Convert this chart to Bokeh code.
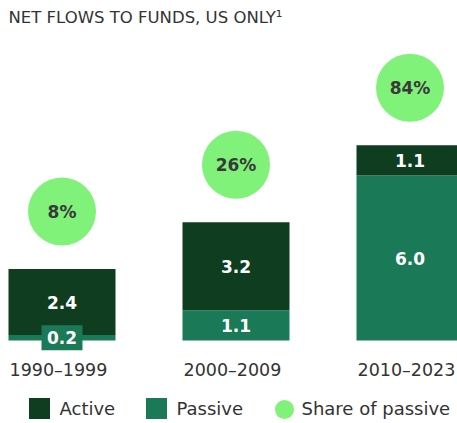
from bokeh.plotting import figure
from bokeh.models import Range1d, ColumnDataSource
from bokeh.core.properties import value
from bokeh.embed import file_html
from bokeh.resources import INLINE

# ---- data ----
categories = ["1990\u20131999", "2000\u20132009", "2010\u20132023"]
active = [2.4, 3.2, 1.1]
passive = [0.2, 1.1, 6.0]
share_passive = [8, 26, 84]
title_text = "NET FLOWS TO FUNDS, US ONLY\u00b9"
legend_labels = ["Active", "Passive", "Share of passive"]

# ---- style ----
ACTIVE_C = "#0F3D1F"
PASSIVE_C = "#1A7A57"
SHARE_C = "#80F27A"
TEXT_C = "#333333"
PCT_C = "#3A3A3A"
FONT = value("DejaVu Sans")

# ---- layout (page pixels) ----
W, H = 457, 423
PX_PER_UNIT = 27.5
BASE_Y = 340          # baseline position from top
CAT_SPACING = 174
FIRST_CENTER = 61.5
BAR_W = 107 / CAT_SPACING
CIRCLE_GAP = 57.5     # px from bar top to circle centre


def fx(px):
    return (px - FIRST_CENTER) / CAT_SPACING


def fy(py):
    return (BASE_Y - py) / PX_PER_UNIT


p = figure(width=W, height=H, output_backend="svg", toolbar_location=None,
           x_range=Range1d(fx(0), fx(W)), y_range=Range1d(fy(H), fy(0)),
           min_border=0, min_border_left=0, min_border_right=0,
           min_border_top=0, min_border_bottom=0)
p.axis.visible = False
p.grid.visible = False
p.outline_line_color = None
p.background_fill_color = "white"
p.border_fill_color = "white"

idx = list(range(len(categories)))
totals = [a + b for a, b in zip(active, passive)]
src = ColumnDataSource(dict(
    x=idx, cat=categories, active=active, passive=passive, total=totals,
    xleft=[i - BAR_W / 2 for i in idx],
    pmid=[b / 2 for b in passive],
    amid=[b + a / 2 for a, b in zip(active, passive)],
    alab=[f"{a:.1f}" for a in active],
    plab=[f"{b:.1f}" for b in passive],
    cy=[t + CIRCLE_GAP / PX_PER_UNIT for t in totals],
    slab=[f"{s}%" for s in share_passive],
    zero=[0] * len(idx),
))

p.vbar(x="x", width=BAR_W, bottom="zero", top="passive", source=src,
       fill_color=PASSIVE_C, line_color=None)
p.vbar(x="x", width=BAR_W, bottom="passive", top="total", source=src,
       fill_color=ACTIVE_C, line_color=None)

# label boxes for segments too thin to hold their label
small = [i for i in idx if passive[i] < 0.5]
if small:
    p.rect(x=[idx[i] for i in small], y=[passive[i] / 2 for i in small],
           width=41, height=25, width_units="screen", height_units="screen",
           fill_color=PASSIVE_C, line_color=None)

LBL = dict(text_font=FONT, text_font_size="17px", text_font_style="bold",
           text_align="center", text_baseline="middle")
p.text(x="x", y="amid", text="alab", source=src, text_color="white", **LBL)
p.text(x="x", y="pmid", text="plab", source=src, text_color="white", **LBL)

p.scatter(x="x", y="cy", size=68, marker="circle", source=src,
          fill_color=SHARE_C, line_color=None)
p.text(x="x", y="cy", text="slab", source=src, text_color=PCT_C, **LBL)

# category labels (left-aligned with the bar edge)
p.text(x="xleft", y=fy(369), text="cat", source=src, text_color=TEXT_C,
       text_font=FONT, text_font_size="17.5px", text_align="left",
       text_baseline="middle", x_offset=1)

# title
p.text(x=[fx(8)], y=[fy(17)], text=[title_text], text_color=TEXT_C,
       text_font=FONT, text_font_size="16.5px", text_align="left",
       text_baseline="middle")

# legend
p.scatter(x=[fx(39)], y=[fy(408)], marker="square", size=21,
          fill_color=ACTIVE_C, line_color=None)
p.scatter(x=[fx(156)], y=[fy(408)], marker="square", size=21,
          fill_color=PASSIVE_C, line_color=None)
p.scatter(x=[fx(284)], y=[fy(409)], marker="circle", size=19,
          fill_color=SHARE_C, line_color=None)
p.text(x=[fx(59), fx(176), fx(301)], y=[fy(408)] * 3, text=legend_labels,
       text_color=TEXT_C, text_font=FONT, text_font_size="18px",
       text_align="left", text_baseline="middle")

open("out.html", "w").write(file_html(p, INLINE))
